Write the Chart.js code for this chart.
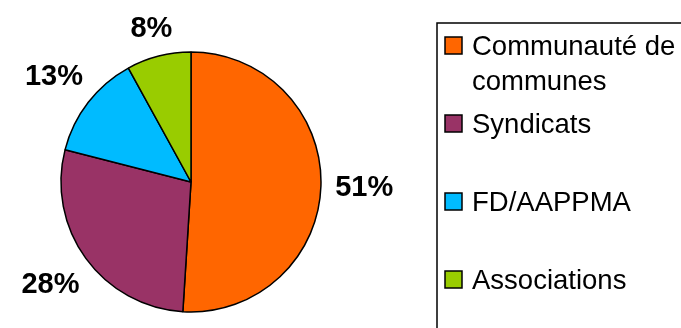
<!DOCTYPE html>
<html>
<head>
<meta charset="utf-8">
<script src="https://cdn.jsdelivr.net/npm/chart.js@4/dist/chart.umd.min.js"></script>
<style>
  html, body { margin: 0; padding: 0; background: #fff; }
  canvas { display: block; }
</style>
</head>
<body>
<canvas id="pieChart" width="681" height="328"></canvas>
<script>
// Répartition par type de structure
const categories = [['Communauté de', 'communes'], 'Syndicats', 'FD/AAPPMA', 'Associations'];
const shares = [51, 28, 13, 8];
const sliceColors = ['#FF6600', '#993366', '#00BBFF', '#99CC00'];

// Percentage labels placed just outside each slice:
// the text box is pushed out along the slice's middle ray until it clears the arc
const outsideLabels = {
  id: 'outsideLabels',
  afterDatasetsDraw(chart) {
    const ctx = chart.ctx;
    const meta = chart.getDatasetMeta(0);
    const gap = 14;
    const textHeight = 21;
    ctx.save();
    ctx.font = 'bold 29px "Liberation Sans", Arial, sans-serif';
    ctx.fillStyle = '#000';
    ctx.textAlign = 'center';
    ctx.textBaseline = 'middle';
    meta.data.forEach((arc, i) => {
      const text = shares[i] + '%';
      const w = ctx.measureText(text).width;
      const mid = (arc.startAngle + arc.endAngle) / 2;
      const ux = Math.cos(mid);
      const uy = Math.sin(mid);
      const extent = Math.abs(ux) * w / 2 + Math.abs(uy) * textHeight / 2;
      const dist = arc.outerRadius + gap + extent;
      ctx.fillText(text, arc.x + ux * dist, arc.y + uy * dist + 1);
    });
    ctx.restore();
  }
};

// Boxed legend on the right, drawn by hand
const boxLegend = {
  id: 'boxLegend',
  afterDraw(chart) {
    const ctx = chart.ctx;
    ctx.save();
    ctx.strokeStyle = '#000';
    ctx.lineWidth = 1.5;
    ctx.strokeRect(437, 23, 320, 400);

    ctx.font = '27.5px "Liberation Sans", Arial, sans-serif';
    ctx.textAlign = 'left';
    ctx.textBaseline = 'alphabetic';
    let baseline = 55;
    chart.data.labels.forEach((label, i) => {
      ctx.fillStyle = sliceColors[i];
      ctx.fillRect(445, baseline - 18, 17, 17);
      ctx.strokeStyle = '#000';
      ctx.lineWidth = 1.5;
      ctx.strokeRect(445, baseline - 18, 17, 17);
      ctx.fillStyle = '#000';
      const lines = Array.isArray(label) ? label : [label];
      lines.forEach((line, j) => ctx.fillText(line, 472, baseline + j * 35));
      baseline += 78;
    });
    ctx.restore();
  }
};

new Chart(document.getElementById('pieChart'), {
  type: 'pie',
  data: {
    labels: categories,
    datasets: [{
      data: shares,
      backgroundColor: sliceColors,
      borderColor: '#000',
      borderWidth: 1.5
    }]
  },
  options: {
    responsive: false,
    animation: false,
    radius: 130,
    layout: {
      padding: { left: 61, right: 360, top: 52, bottom: 16 }
    },
    plugins: {
      legend: { display: false },
      tooltip: { enabled: false }
    }
  },
  plugins: [outsideLabels, boxLegend]
});
</script>
</body>
</html>
